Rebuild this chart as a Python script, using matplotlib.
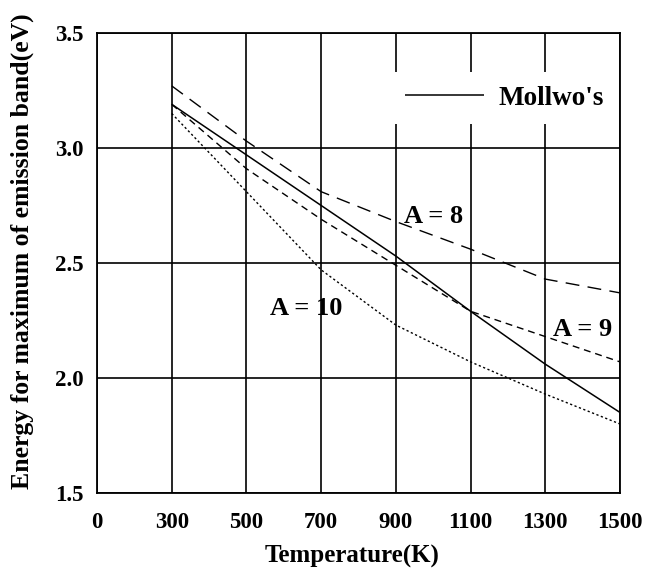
import numpy as np
import matplotlib
matplotlib.use("Agg")
import matplotlib.pyplot as plt

# ---- data ----
tick_values = [0, 300, 500, 700, 900, 1100, 1300, 1500]
tick_labels = ["0", "300", "500", "700", "900", "1100", "1300", "1500"]
temperature = [300, 500, 700, 900, 1100, 1300, 1500]
mollwo = [3.19, 2.97, 2.75, 2.53, 2.29, 2.06, 1.85]
a8 = [3.27, 3.03, 2.81, 2.68, 2.56, 2.43, 2.37]
a9 = [3.19, 2.91, 2.69, 2.49, 2.29, 2.18, 2.07]
a10 = [3.15, 2.81, 2.47, 2.23, 2.07, 1.93, 1.80]
y_ticks = [1.5, 2.0, 2.5, 3.0, 3.5]
y_tick_labels = ["1.5", "2.0", "2.5", "3.0", "3.5"]

FONT = "Liberation Serif"

def xpos(t):
    # the axis spaces the labelled temperatures evenly (0, 300, 500, ...)
    return np.interp(t, tick_values, np.arange(len(tick_values)))

fig = plt.figure(figsize=(6.52, 5.77), dpi=100)
ax = fig.add_axes([0.1488, 0.1456, 0.951 - 0.1488, 0.9428 - 0.1456])

x = xpos(np.array(temperature, dtype=float))
line_m, = ax.plot(x, mollwo, color="black", lw=1.1, solid_capstyle="butt",
                  label="Mollwo's", zorder=3)
ax.plot(x, a8, color="black", lw=1.0, dashes=(10, 6), zorder=3)
ax.plot(x, a9, color="black", lw=1.0, dashes=(5, 3.5), zorder=3)
ax.plot(x, a10, color="black", lw=1.0, dashes=(1.6, 1.8), zorder=3)

ax.set_xlim(0, len(tick_values) - 1)
ax.set_ylim(1.5, 3.5)
ax.set_xticks(np.arange(len(tick_values)))
ax.set_xticklabels(tick_labels)
ax.set_yticks(y_ticks)
ax.set_yticklabels(y_tick_labels)
ax.tick_params(axis="both", length=0, labelsize=16.5)
ax.tick_params(axis="x", pad=14)
ax.tick_params(axis="y", pad=10)
for lab in ax.get_xticklabels() + ax.get_yticklabels():
    lab.set_fontfamily(FONT)
    lab.set_fontweight("bold")

ax.grid(True, color="black", lw=1.2, zorder=1)
ax.set_axisbelow(True)
for sp in ax.spines.values():
    sp.set_linewidth(1.3)
    sp.set_color("black")

ax.set_xlabel("Temperature(K)", fontsize=18, fontfamily=FONT, fontweight="bold", va="center")
ax.xaxis.set_label_coords(0.488, -0.139)
ax.set_ylabel("Energy for maximum of emission band(eV)", fontsize=18.5,
              fontfamily=FONT, fontweight="bold", va="center")
ax.yaxis.set_label_coords(-0.143, 0.526)

tkw = dict(fontsize=19, fontfamily=FONT, fontweight="bold", ha="center", va="center", zorder=4)
ax.text(xpos(1000), 2.70, "A = 8", **tkw)
ax.text(xpos(1400), 2.21, "A = 9", **tkw)
ax.text(xpos(660), 2.30, "A = 10", **tkw)

leg = ax.legend(handles=[line_m], loc="upper right", bbox_to_anchor=(0.995, 0.915),
                borderaxespad=0.0, frameon=True, fancybox=False, framealpha=1.0,
                facecolor="white", edgecolor="none", handlelength=2.9,
                handletextpad=0.55, borderpad=0.5,
                prop=dict(family=FONT, weight="bold", size=19.5))
leg.set_zorder(5)

fig.savefig("out.png", dpi=100)
